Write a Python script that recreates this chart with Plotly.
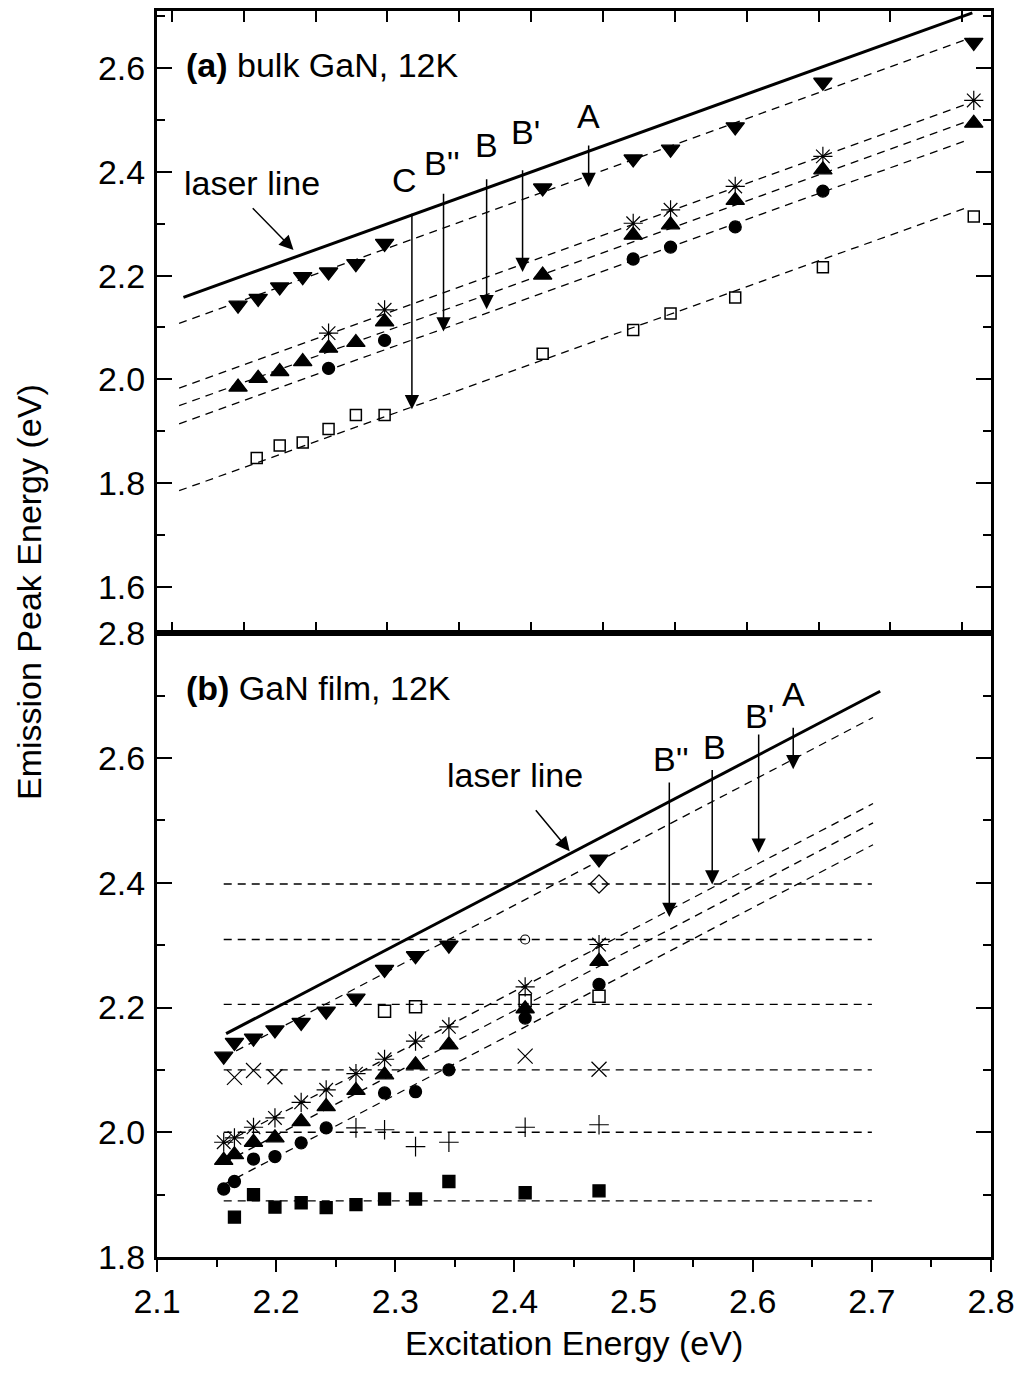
import plotly.graph_objects as go

FONT = "Liberation Sans, Arial, sans-serif"

# ---------------- panel (a): bulk GaN, 12K ----------------
xa_dn = [2.196, 2.210, 2.225, 2.241, 2.259, 2.278, 2.298, 2.408, 2.471, 2.497, 2.542, 2.603, 2.708]
ya_dn = [2.143, 2.156, 2.178, 2.198, 2.207, 2.223, 2.262, 2.369, 2.425, 2.444, 2.487, 2.573, 2.650]
xa_up = [2.196, 2.210, 2.225, 2.241, 2.259, 2.278, 2.298, 2.408, 2.471, 2.497, 2.542, 2.603, 2.708]
ya_up = [1.985, 2.002, 2.015, 2.034, 2.060, 2.071, 2.111, 2.201, 2.278, 2.298, 2.345, 2.404, 2.494]
xa_ast = [2.259, 2.298, 2.471, 2.497, 2.542, 2.603, 2.708]
ya_ast = [2.089, 2.134, 2.301, 2.327, 2.372, 2.430, 2.538]
xa_cir = [2.259, 2.298, 2.471, 2.497, 2.542, 2.603]
ya_cir = [2.021, 2.075, 2.232, 2.255, 2.294, 2.363]
xa_sq = [2.209, 2.225, 2.241, 2.259, 2.278, 2.298, 2.408, 2.471, 2.497, 2.542, 2.603, 2.708]
ya_sq = [1.848, 1.872, 1.878, 1.904, 1.931, 1.931, 2.049, 2.095, 2.127, 2.158, 2.216, 2.314]

# dashed guide lines (endpoints) in panel (a)
xa_fit = [2.155, 2.705]
ya_fit_A = [2.108, 2.658]
ya_fit_Bp = [1.983, 2.533]
ya_fit_B = [1.949, 2.499]
ya_fit_Bpp = [1.914, 2.463]
ya_fit_C = [1.785, 2.333]

# arrows in panel (a): label, x, y_tail, y_head, label_x, label_y
arrows_a_lbl = ["C", "B''", "B", "B'", "A"]
arrows_a_x = [2.317, 2.339, 2.369, 2.394, 2.440]
arrows_a_y0 = [2.322, 2.361, 2.389, 2.406, 2.454]
arrows_a_y1 = [1.942, 2.092, 2.135, 2.207, 2.371]
arrows_a_lx = [2.312, 2.338, 2.369, 2.396, 2.440]
arrows_a_ly = [2.385, 2.417, 2.452, 2.478, 2.507]

# ---------------- panel (b): GaN film, 12K ----------------
xb_dn = [2.156, 2.165, 2.181, 2.199, 2.221, 2.242, 2.267, 2.291, 2.317, 2.345, 2.471]
yb_dn = [2.122, 2.144, 2.151, 2.164, 2.176, 2.194, 2.215, 2.261, 2.283, 2.300, 2.438]
xb_ast = [2.156, 2.165, 2.181, 2.199, 2.221, 2.242, 2.267, 2.291, 2.317, 2.345, 2.409, 2.471]
yb_ast = [1.984, 1.991, 2.008, 2.023, 2.048, 2.068, 2.094, 2.117, 2.146, 2.169, 2.233, 2.301]
xb_up = [2.156, 2.165, 2.181, 2.199, 2.221, 2.242, 2.267, 2.291, 2.317, 2.345, 2.409, 2.471]
yb_up = [1.955, 1.964, 1.984, 1.991, 2.017, 2.041, 2.067, 2.092, 2.108, 2.140, 2.198, 2.274]
xb_cir = [2.156, 2.165, 2.181, 2.199, 2.221, 2.242, 2.291, 2.317, 2.345, 2.409, 2.471]
yb_cir = [1.909, 1.921, 1.957, 1.961, 1.983, 2.007, 2.063, 2.065, 2.100, 2.183, 2.237]
xb_osq = [2.291, 2.317, 2.409, 2.471]
yb_osq = [2.194, 2.201, 2.211, 2.218]
xb_x = [2.165, 2.181, 2.199, 2.409, 2.471]
yb_x = [2.088, 2.099, 2.089, 2.122, 2.101]
xb_plus = [2.267, 2.291, 2.317, 2.345, 2.409, 2.471]
yb_plus = [2.007, 2.004, 1.977, 1.984, 2.008, 2.012]
xb_fsq = [2.165, 2.181, 2.199, 2.221, 2.242, 2.267, 2.291, 2.317, 2.345, 2.409, 2.471]
yb_fsq = [1.864, 1.900, 1.880, 1.887, 1.879, 1.884, 1.893, 1.893, 1.921, 1.903, 1.906]
xb_ocir = [2.409]
yb_ocir = [2.309]
xb_dia = [2.471]
yb_dia = [2.398]

# horizontal dashed levels and sloped guide lines in panel (b)
xb_hfit = [2.156, 2.700]
yb_levels = [2.398, 2.309, 2.205, 2.100, 2.000, 1.890]
xb_fit = [2.156, 2.701]
yb_fit_A = [2.120, 2.665]
yb_fit_1 = [1.982, 2.527]
yb_fit_2 = [1.951, 2.496]
yb_fit_3 = [1.916, 2.461]

arrows_b_lbl = ["B''", "B", "B'", "A"]
arrows_b_x = [2.530, 2.566, 2.605, 2.634]
arrows_b_y0 = [2.563, 2.583, 2.640, 2.651]
arrows_b_y1 = [2.345, 2.397, 2.448, 2.582]
arrows_b_lx = [2.531, 2.568, 2.606, 2.634]
arrows_b_ly = [2.598, 2.617, 2.668, 2.702]

# laser line (excitation = emission)
x_laser = [2.158, 2.707]
y_laser = [2.158, 2.707]

fig = go.Figure()

def dashed(x, y, xa, ya):
    fig.add_trace(go.Scatter(x=x, y=y, mode="lines", xaxis=xa, yaxis=ya,
                             line=dict(color="black", width=1.3, dash="8px,6px"),
                             hoverinfo="skip", showlegend=False))

def pts(x, y, xa, ya, symbol, size, lw=1.3):
    fig.add_trace(go.Scatter(x=x, y=y, mode="markers", xaxis=xa, yaxis=ya,
                             marker=dict(symbol=symbol, size=size, color="black",
                                         line=dict(color="black", width=lw)),
                             showlegend=False))

# ---- panel (a) traces (top: x2/y2) ----
for yy in [ya_fit_A, ya_fit_Bp, ya_fit_B, ya_fit_Bpp, ya_fit_C]:
    dashed(xa_fit, yy, "x2", "y2")
fig.add_trace(go.Scatter(x=x_laser, y=y_laser, mode="lines", xaxis="x2", yaxis="y2",
                         line=dict(color="black", width=3), showlegend=False))
pts(xa_dn, ya_dn, "x2", "y2", "triangle-down", 16)
pts(xa_up, ya_up, "x2", "y2", "triangle-up", 16)
pts(xa_ast, ya_ast, "x2", "y2", "asterisk-open", 16, 1.2)
pts(xa_cir, ya_cir, "x2", "y2", "circle", 12)
pts(xa_sq, ya_sq, "x2", "y2", "square-open", 11, 1.5)

# ---- panel (b) traces (bottom: x/y) ----
for lv in yb_levels:
    dashed(xb_hfit, [lv, lv], "x", "y")
for yy in [yb_fit_A, yb_fit_1, yb_fit_2, yb_fit_3]:
    dashed(xb_fit, yy, "x", "y")
fig.add_trace(go.Scatter(x=x_laser, y=y_laser, mode="lines", xaxis="x", yaxis="y",
                         line=dict(color="black", width=3), showlegend=False))
pts(xb_dn, yb_dn, "x", "y", "triangle-down", 16)
pts(xb_ast, yb_ast, "x", "y", "asterisk-open", 16, 1.2)
pts(xb_up, yb_up, "x", "y", "triangle-up", 16)
pts(xb_cir, yb_cir, "x", "y", "circle", 12)
pts(xb_osq, yb_osq, "x", "y", "square-open", 12, 1.5)
pts(xb_x, yb_x, "x", "y", "x-thin-open", 15, 1.2)
pts(xb_plus, yb_plus, "x", "y", "cross-thin-open", 14, 1.2)
pts(xb_fsq, yb_fsq, "x", "y", "square", 12)
pts(xb_ocir, yb_ocir, "x", "y", "circle-open", 9, 1.2)
pts(xb_dia, yb_dia, "x", "y", "diamond-open", 14, 1.3)

ann = []
TXT = dict(family=FONT, size=34, color="black")

def arrow(x, y, ax, ay, xr, yr):
    ann.append(dict(x=x, y=y, ax=ax, ay=ay, xref=xr, yref=yr, axref=xr, ayref=yr,
                    text="", showarrow=True, arrowhead=2, arrowsize=1.9,
                    arrowwidth=1.5, arrowcolor="black", standoff=0, startstandoff=0))

def label(x, y, t, xr, yr, xanchor="center"):
    ann.append(dict(x=x, y=y, xref=xr, yref=yr, text=t, showarrow=False,
                    font=TXT, xanchor=xanchor, yanchor="middle"))

for lb, x, y0, y1, lx, ly in zip(arrows_a_lbl, arrows_a_x, arrows_a_y0, arrows_a_y1, arrows_a_lx, arrows_a_ly):
    arrow(x, y1, x, y0, "x2", "y2")
    label(lx, ly, lb, "x2", "y2")
for lb, x, y0, y1, lx, ly in zip(arrows_b_lbl, arrows_b_x, arrows_b_y0, arrows_b_y1, arrows_b_lx, arrows_b_ly):
    arrow(x, y1, x, y0, "x", "y")
    label(lx, ly, lb, "x", "y")

# laser line labels
label(2.206, 2.379, "laser line", "x2", "y2")
arrow(2.2346, 2.2495, 2.2052, 2.333, "x2", "y2")
label(2.4007, 2.572, "laser line", "x", "y")
arrow(2.4464, 2.4506, 2.4169, 2.5186, "x", "y")

# panel titles
label(2.1587, 2.606, "<b>(a)</b> bulk GaN, 12K", "x2", "y2", xanchor="left")
label(2.123, 2.712, "<b>(b)</b> GaN film, 12K", "x", "y", xanchor="left")

# axis titles
ann.append(dict(x=0, y=0.5337, xref="paper", yref="paper", xshift=-128, text="Emission Peak Energy (eV)",
                textangle=-90, showarrow=False, font=TXT, xanchor="center", yanchor="middle"))
ann.append(dict(x=0.5, y=0, xref="paper", yref="paper", yshift=-86, text="Excitation Energy (eV)",
                showarrow=False, font=TXT, xanchor="center", yanchor="middle"))

split = 0.5006
common_y = dict(showline=True, linewidth=3, linecolor="black", mirror="ticks",
                ticks="inside", ticklen=15, tickwidth=2, tickcolor="black",
                tickformat=".1f", showgrid=False, zeroline=False, automargin=False,
                tickfont=dict(family=FONT, size=34, color="black"),
                ticklabelstandoff=2,
                minor=dict(ticks="inside", ticklen=8, tickwidth=2, tickcolor="black", dtick=0.1, showgrid=False))

fig.update_layout(
    width=1021, height=1378, autosize=False,
    margin=dict(l=157, r=30, t=11, b=121, autoexpand=False),
    plot_bgcolor="white", paper_bgcolor="white",
    showlegend=False,
    xaxis=dict(domain=[0, 1], range=[2.1, 2.8], anchor="y", automargin=False,
               showline=True, linewidth=3, linecolor="black", mirror=True,
               ticks="outside", ticklen=12, tickwidth=2, tickcolor="black",
               tickmode="linear", tick0=2.1, dtick=0.1, tickformat=".1f",
               showgrid=False, zeroline=False,
               tickfont=dict(family=FONT, size=34, color="black"),
               minor=dict(ticks="outside", ticklen=7, tickwidth=2, tickcolor="black", dtick=0.05, showgrid=False)),
    yaxis=dict(domain=[0, split], range=[1.8, 2.8], anchor="x",
               tickmode="linear", tick0=1.8, dtick=0.2, **common_y),
    xaxis2=dict(domain=[0, 1], range=[2.1396, 2.720], anchor="y2", automargin=False,
                showline=True, linewidth=3, linecolor="black", mirror="ticks",
                ticks="inside", ticklen=11, tickwidth=2, tickcolor="black",
                tickmode="linear", tick0=2.15, dtick=0.05, showticklabels=False,
                showgrid=False, zeroline=False),
    yaxis2=dict(domain=[split, 1], range=[1.510, 2.7105], anchor="x2",
                tickmode="linear", tick0=1.6, dtick=0.2, **common_y),
    annotations=ann,
)

fig.write_html("out.html")
